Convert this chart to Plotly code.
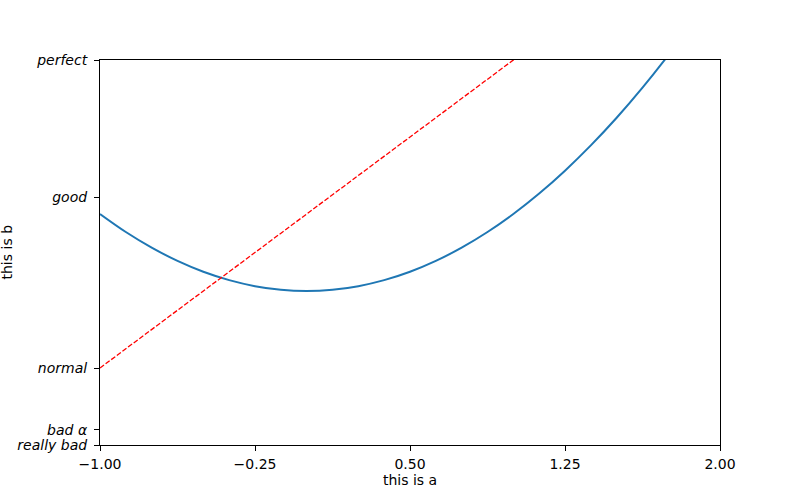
import plotly.graph_objects as go

curve_x = [-1.0, -0.875, -0.75, -0.625, -0.5, -0.375, -0.25, -0.125, 0.0, 0.125, 0.25,
           0.375, 0.5, 0.625, 0.75, 0.875, 1.0, 1.125, 1.25, 1.375, 1.5, 1.625, 1.75,
           1.875, 2.0]
curve_y = [1.0, 0.766, 0.563, 0.391, 0.25, 0.141, 0.063, 0.016, 0.0, 0.016, 0.063,
           0.141, 0.25, 0.391, 0.563, 0.766, 1.0, 1.266, 1.563, 1.891, 2.25, 2.641, 3.063,
           3.516, 4.0]
# straight dashed line y = 2x + 1
line_x = [-1.0, 2.0]
line_y = [-1.0, 5.0]

x_ticks = [-1.0, -0.25, 0.5, 1.25, 2.0]
x_tick_labels = ["\u22121.00", "\u22120.25", "0.50", "1.25", "2.00"]
y_ticks = [-2, -1.8, -1, 1.22, 3]
y_tick_labels = ["really bad", "bad \u03b1", "normal", "good", "perfect"]

fig = go.Figure()
fig.add_trace(go.Scatter(x=curve_x, y=curve_y, mode="lines",
                         line=dict(color="#1f77b4", width=2, shape="spline", smoothing=1.0),
                         showlegend=False))
fig.add_trace(go.Scatter(x=line_x, y=line_y, mode="lines",
                         line=dict(color="red", width=1.3, dash="5px,2px"), showlegend=False))

axis_common = dict(showline=True, linecolor="black", linewidth=1.1, mirror=True,
                   ticks="outside", ticklen=5, tickwidth=1.1, tickcolor="black",
                   showgrid=False, zeroline=False)

fig.update_layout(
    width=800, height=500,
    margin=dict(l=100, r=80, t=60, b=55),
    plot_bgcolor="white", paper_bgcolor="white",
    font=dict(family="DejaVu Sans", size=14, color="black"),
    xaxis=dict(range=[-1, 2], tickvals=x_ticks, ticktext=x_tick_labels,
               ticklabelstandoff=1,
               title=dict(text="this is a", standoff=4, font=dict(size=14)),
               automargin=False, **axis_common),
    yaxis=dict(range=[-2, 3], tickvals=y_ticks,
               ticktext=["<i>%s</i>" % t for t in y_tick_labels],
               ticklabelstandoff=4,
               automargin=False, **axis_common),
    annotations=[dict(text="this is b", xref="paper", yref="paper", x=0, y=0.5,
                      xanchor="center", yanchor="middle", xshift=-94, textangle=-90,
                      showarrow=False, font=dict(size=14))],
)

fig.write_html("out.html", config={"displayModeBar": False},
               post_script="document.body.style.margin='0';")
